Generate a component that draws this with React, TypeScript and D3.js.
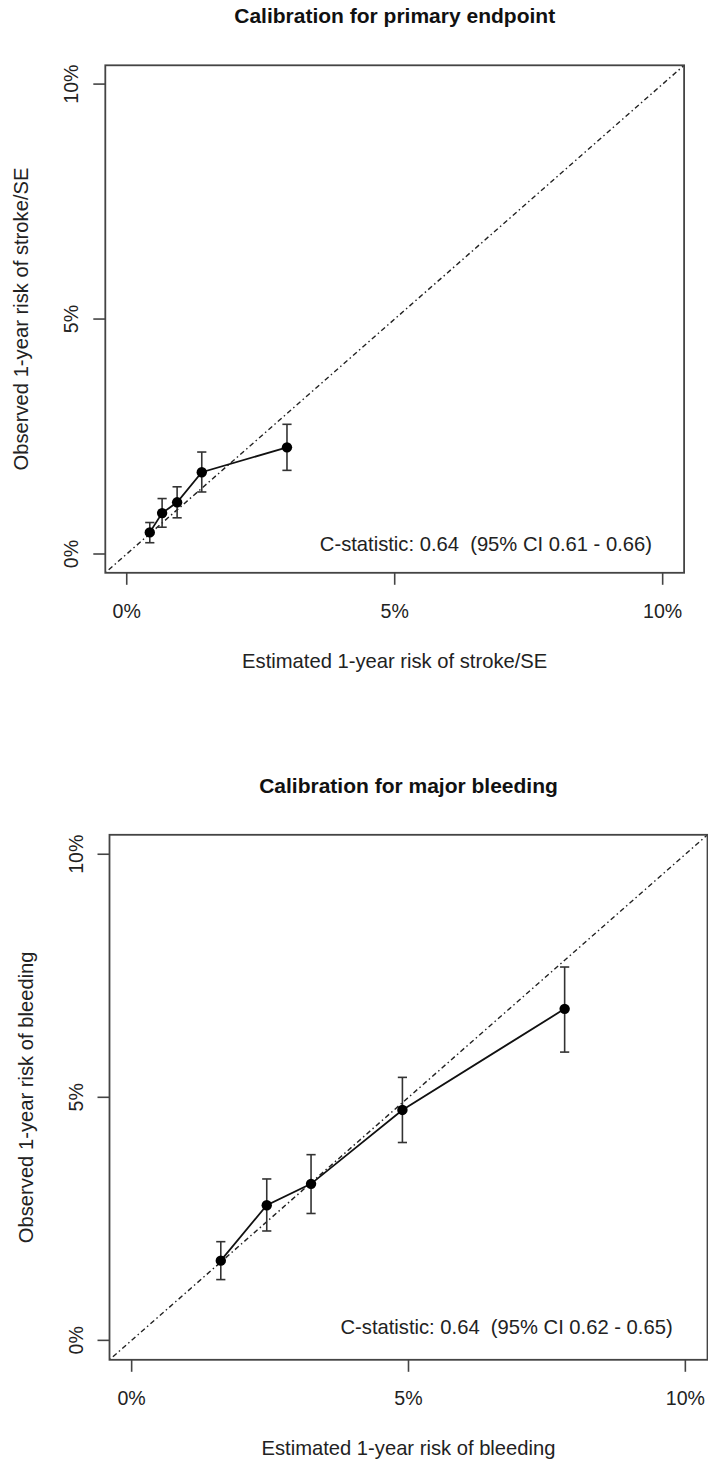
import { useEffect, useRef } from "react";
import * as d3 from "d3";

// Calibration: primary endpoint (stroke/SE), values in %
const strokeEst = [0.43, 0.66, 0.94, 1.4, 2.99];
const strokeObs = [0.46, 0.87, 1.1, 1.74, 2.27];
const strokeLo = [0.24, 0.57, 0.77, 1.32, 1.78];
const strokeHi = [0.67, 1.18, 1.43, 2.17, 2.76];

// Calibration: major bleeding, values in %
const bleedEst = [1.61, 2.44, 3.24, 4.89, 7.82];
const bleedObs = [1.64, 2.78, 3.22, 4.74, 6.82];
const bleedLo = [1.25, 2.25, 2.61, 4.07, 5.93];
const bleedHi = [2.03, 3.32, 3.82, 5.41, 7.68];

const ticks = [0, 5, 10];
const tickLabels = ["0%", "5%", "10%"];

const panels = [
  {
    title: "Calibration for primary endpoint",
    xLabel: "Estimated 1-year risk of stroke/SE",
    yLabel: "Observed 1-year risk of stroke/SE",
    stat: "C-statistic: 0.64  (95% CI 0.61 - 0.66)",
    statAt: [9.8, 0.07],
    est: strokeEst,
    obs: strokeObs,
    lo: strokeLo,
    hi: strokeHi,
    box: { left: 105.3, right: 684.1, top: 65.3, bottom: 572.8 },
  },
  {
    title: "Calibration for major bleeding",
    xLabel: "Estimated 1-year risk of bleeding",
    yLabel: "Observed 1-year risk of bleeding",
    stat: "C-statistic: 0.64  (95% CI 0.62 - 0.65)",
    statAt: [9.77, 0.14],
    est: bleedEst,
    obs: bleedObs,
    lo: bleedLo,
    hi: bleedHi,
    box: { left: 109.5, right: 707.5, top: 834.8, bottom: 1359.8 },
  },
];

const FONT = "'Liberation Sans', Arial, Helvetica, sans-serif";

export default function App() {
  const ref = useRef<SVGSVGElement | null>(null);

  useEffect(() => {
    const svg = d3.select(ref.current);
    svg.selectAll("*").remove();

    panels.forEach((p) => {
      const { left, right, top, bottom } = p.box;
      // R-style 4% axis expansion of [0, 10]
      const x = d3.scaleLinear().domain([-0.4, 10.4]).range([left, right]);
      const y = d3.scaleLinear().domain([-0.4, 10.4]).range([bottom, top]);
      const g = svg.append("g").attr("font-family", FONT);

      // title
      g.append("text")
        .attr("x", (left + right) / 2)
        .attr("y", top - 42)
        .attr("text-anchor", "middle")
        .attr("font-weight", "bold")
        .attr("font-size", 21)
        .attr("fill", "#111")
        .text(p.title);

      // clip for diagonal
      const clipId = "clip" + Math.round(top);
      g.append("clipPath")
        .attr("id", clipId)
        .append("rect")
        .attr("x", left)
        .attr("y", top)
        .attr("width", right - left)
        .attr("height", bottom - top);

      // reference diagonal
      g.append("line")
        .attr("clip-path", `url(#${clipId})`)
        .attr("x1", x(-0.4))
        .attr("y1", y(-0.4))
        .attr("x2", x(10.4))
        .attr("y2", y(10.4))
        .attr("stroke", "#222")
        .attr("stroke-width", 1.4)
        .attr("stroke-dasharray", "1.5,3,5,3");

      // frame
      g.append("rect")
        .attr("x", left)
        .attr("y", top)
        .attr("width", right - left)
        .attr("height", bottom - top)
        .attr("fill", "none")
        .attr("stroke", "#444")
        .attr("stroke-width", 1.8);

      // x axis
      ticks.forEach((t, i) => {
        g.append("line")
          .attr("x1", x(t))
          .attr("x2", x(t))
          .attr("y1", bottom)
          .attr("y2", bottom + 12)
          .attr("stroke", "#444")
          .attr("stroke-width", 1.6);
        g.append("text")
          .attr("x", x(t))
          .attr("y", bottom + 45)
          .attr("text-anchor", "middle")
          .attr("font-size", 19.6)
          .attr("fill", "#222")
          .text(tickLabels[i]);
      });

      // y axis
      ticks.forEach((t, i) => {
        g.append("line")
          .attr("x1", left)
          .attr("x2", left - 12)
          .attr("y1", y(t))
          .attr("y2", y(t))
          .attr("stroke", "#444")
          .attr("stroke-width", 1.6);
        g.append("text")
          .attr("transform", `translate(${left - 27},${y(t)}) rotate(-90)`)
          .attr("text-anchor", "middle")
          .attr("font-size", 19.6)
          .attr("fill", "#222")
          .text(tickLabels[i]);
      });

      // axis titles
      g.append("text")
        .attr("x", (left + right) / 2)
        .attr("y", bottom + 95)
        .attr("text-anchor", "middle")
        .attr("font-size", 20.2)
        .attr("fill", "#222")
        .text(p.xLabel);
      g.append("text")
        .attr("transform", `translate(${left - 77},${(top + bottom) / 2}) rotate(-90)`)
        .attr("text-anchor", "middle")
        .attr("font-size", 20.2)
        .attr("fill", "#222")
        .text(p.yLabel);

      // error bars
      p.est.forEach((e, i) => {
        const cx = x(e);
        g.append("line")
          .attr("x1", cx)
          .attr("x2", cx)
          .attr("y1", y(p.lo[i]))
          .attr("y2", y(p.hi[i]))
          .attr("stroke", "#333")
          .attr("stroke-width", 1.6);
        [p.lo[i], p.hi[i]].forEach((v) => {
          g.append("line")
            .attr("x1", cx - 4.6)
            .attr("x2", cx + 4.6)
            .attr("y1", y(v))
            .attr("y2", y(v))
            .attr("stroke", "#333")
            .attr("stroke-width", 1.6);
        });
      });

      // connecting line
      const line = d3
        .line<number>()
        .x((d, i) => x(p.est[i]))
        .y((d) => y(d));
      g.append("path")
        .attr("d", line(p.obs))
        .attr("fill", "none")
        .attr("stroke", "#111")
        .attr("stroke-width", 1.8);

      // points
      p.obs.forEach((o, i) => {
        g.append("circle")
          .attr("cx", x(p.est[i]))
          .attr("cy", y(o))
          .attr("r", 5.2)
          .attr("fill", "#000");
      });

      // C-statistic
      g.append("text")
        .attr("x", x(p.statAt[0]))
        .attr("y", y(p.statAt[1]))
        .attr("text-anchor", "end")
        .attr("font-size", 20.2)
        .attr("fill", "#222")
        .style("white-space", "pre")
        .text(p.stat);
    });
  }, []);

  return (
    <svg
      ref={ref}
      width={708}
      height={1462}
      style={{ position: "absolute", left: 0, top: 0, background: "#fff" }}
    />
  );
}
